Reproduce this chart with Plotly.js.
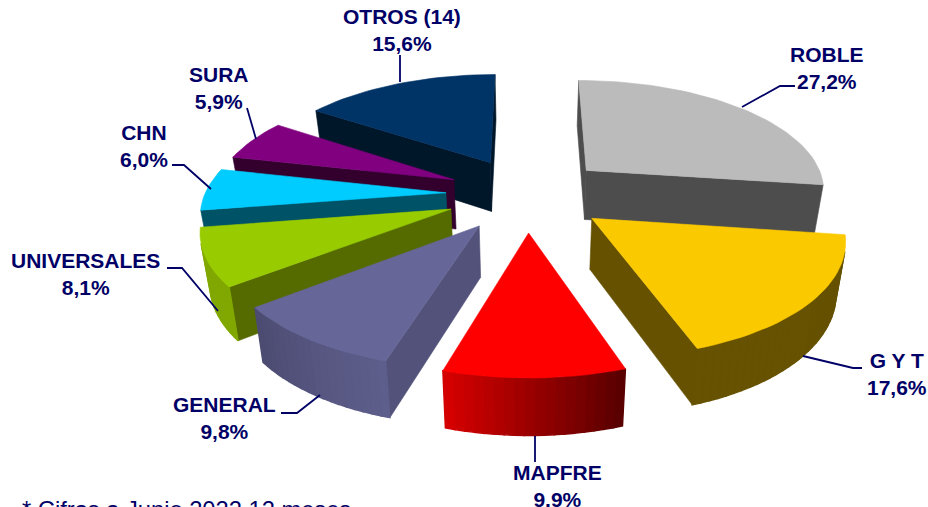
<!DOCTYPE html>
<html>
<head>
<meta charset="utf-8">
<script src="https://cdn.plot.ly/plotly-3.0.0.min.js"></script>
<style>html,body{margin:0;padding:0;background:#fff;overflow:hidden}</style>
</head>
<body>
<div id="chart" style="width:928px;height:507px"></div>
<script>
// Data
const categories = ['ROBLE', 'G Y T', 'MAPFRE', 'GENERAL', 'UNIVERSALES', 'CHN', 'SURA', 'OTROS (14)'];
const values = [27.2, 17.6, 9.9, 9.8, 8.1, 6.0, 5.9, 15.6];
// Colours
const topColors = ['#BBBBBB', '#FBC900', '#FF0000', '#666699', '#99CC00', '#00CCFF', '#800080', '#003366'];
const faceColors = ['#4D4D4D', '#655100', '#800000', '#52527A', '#556B00', '#005266', '#33002E', '#001629'];
const wallFrom = ['#4D4D4D', '#655100', '#5A0000', '#5E5E8C', '#80A800', '#008BAD', '#5A005A', '#002244'];
const wallTo = ['#4D4D4D', '#665200', '#D40000', '#4C4C72', '#80A800', '#008BAD', '#5A005A', '#002244'];
// Label placement (centre of text block) and leader paths
const labelX = [827, 897, 557, 224, 85, 144, 219, 402];
const labelY = [68, 374, 486, 418, 274, 146, 88, 30];
const leaderX = [[742, 780, 795], [803, 853, 862], [535, 535], [320, 297, 281], [218, 182, 167], [211, 184, 172], [256, 247], [400, 400]];
const leaderY = [[107, 86, 86], [356, 368, 368], [436, 462], [395, 413, 413], [311, 268, 268], [189, 165, 165], [139, 108], [82, 55]];
const footnote = '* Cifras a Junio 2022 12 meses';
const textColor = '#000066';

// 3D projection settings for the exploded pie
const view = {cx: 527, cy: 194, a: 241, b: 110, k: 0.15, h: 50, hPersp: 0.6, explode: 0.337, taper: 0.03};

function project(X, Y, Z) {
  const s = 1 / (1 + view.k * Y);
  return [view.cx + view.a * X * s * (1 - view.taper * Z),
          view.cy - view.b * Y * s + view.h * Z * (1 + (s - 1) * view.hPersp)];
}
function hexRgb(h) { return [1, 3, 5].map(i => parseInt(h.substr(i, 2), 16)); }
function mix(c1, c2, t) {
  const a = hexRgb(c1), b = hexRgb(c2);
  return 'rgb(' + a.map((v, i) => Math.round(v + (b[i] - v) * t)).join(',') + ')';
}
function poly(pts, color, w) {
  const c = pts.concat([pts[0]]);
  return {type: 'scatter', mode: 'lines', x: c.map(p => p[0]), y: c.map(p => p[1]),
    fill: 'toself', fillcolor: color, line: {color: color, width: w}, hoverinfo: 'skip', showlegend: false};
}
function area(q) {
  let s = 0;
  q.forEach((p, i) => { const n = q[(i + 1) % q.length]; s += p[0] * n[1] - n[0] * p[1]; });
  return s;
}

const total = values.reduce((a, b) => a + b, 0);
let cum = 0;
const slices = values.map((v, i) => {
  const t0 = cum / total * 2 * Math.PI;
  cum += v;
  const t1 = cum / total * 2 * Math.PI;
  return {i, t0, t1, mid: (t0 + t1) / 2};
});
const order = slices.slice().sort((p, q) => Math.cos(q.mid) - Math.cos(p.mid));

const traces = [];
order.forEach(sl => {
  const ox = view.explode * Math.sin(sl.mid), oy = view.explode * Math.cos(sl.mid);
  const N = Math.max(8, Math.round((sl.t1 - sl.t0) / 0.035));
  const rim = [];
  for (let j = 0; j <= N; j++) {
    const t = sl.t0 + (sl.t1 - sl.t0) * j / N;
    rim.push([ox + Math.sin(t), oy + Math.cos(t)]);
  }
  const T = p => project(p[0], p[1], 0), B = p => project(p[0], p[1], 1);
  const apex = [ox, oy];
  const add = (q, color, w) => { if (area(q) < 0) traces.push(poly(q, color, w)); };
  add([T(apex), T(rim[0]), B(rim[0]), B(apex)], faceColors[sl.i], 0.6);
  for (let j = 0; j < N; j++) {
    add([T(rim[j]), T(rim[j + 1]), B(rim[j + 1]), B(rim[j])], mix(wallFrom[sl.i], wallTo[sl.i], j / (N - 1)), 1.4);
  }
  add([T(rim[N]), T(apex), B(apex), B(rim[N])], faceColors[sl.i], 0.6);
  traces.push(poly([T(apex)].concat(rim.map(T)), topColors[sl.i], 0.6));
});

leaderX.forEach((xs, i) => {
  traces.push({type: 'scatter', mode: 'lines', x: xs, y: leaderY[i], line: {color: textColor, width: 1.8},
    hoverinfo: 'skip', showlegend: false});
});

const annotations = categories.map((c, i) => ({
  x: labelX[i], y: labelY[i], xref: 'x', yref: 'y', showarrow: false, align: 'center',
  text: '<b>' + c + '<br>' + values[i].toFixed(1).replace('.', ',') + '%</b>',
  font: {family: 'Liberation Sans, Arial, sans-serif', size: 21, color: textColor}
}));
annotations.push({
  x: 20, y: 506, yshift: -4, xref: 'x', yref: 'y', xanchor: 'left', yanchor: 'middle', showarrow: false,
  text: footnote, font: {family: 'Liberation Sans, Arial, sans-serif', size: 23.7, color: textColor}
});

Plotly.newPlot('chart', traces, {
  width: 928, height: 507, margin: {l: 0, r: 0, t: 0, b: 0}, paper_bgcolor: '#fff', plot_bgcolor: '#fff',
  xaxis: {range: [0, 928], visible: false, fixedrange: true},
  yaxis: {range: [507, 0], visible: false, fixedrange: true},
  showlegend: false, annotations: annotations
}, {displayModeBar: false, staticPlot: true});
</script>
</body>
</html>
